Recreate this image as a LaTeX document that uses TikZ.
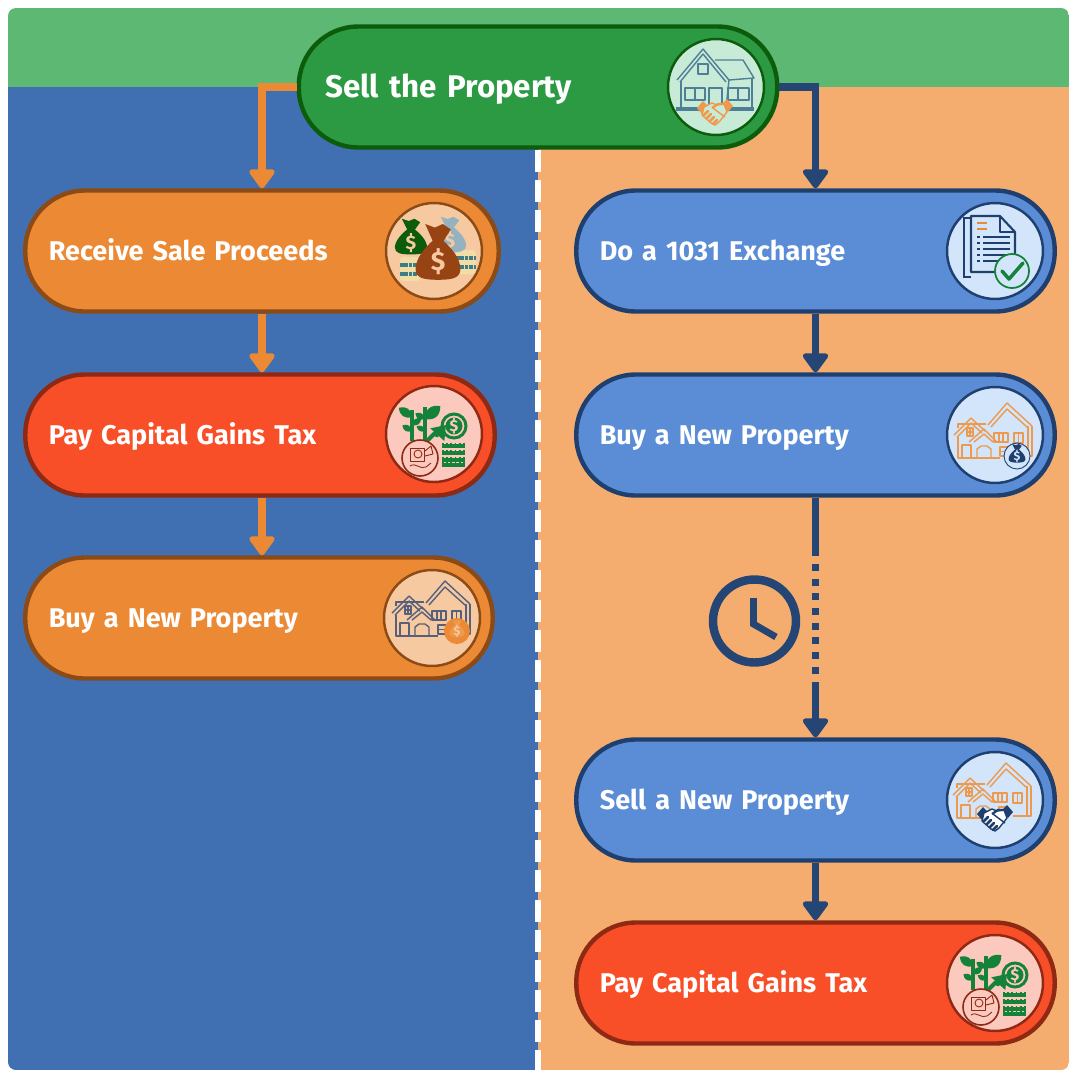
\documentclass[tikz,border=0pt]{standalone}
\usepackage{fontspec}
\setmainfont{Fira Sans}[WordSpace=0.55]
\usetikzlibrary{arrows.meta}
\definecolor{greenband}{HTML}{5DB873}
\definecolor{blueside}{HTML}{4070B2}
\definecolor{orangeside}{HTML}{F4AD6F}
\definecolor{greenfill}{HTML}{2B9A43}
\definecolor{greenline}{HTML}{0C5C0C}
\definecolor{orangefill}{HTML}{EC8935}
\definecolor{orangeline}{HTML}{8B4A16}
\definecolor{redfill}{HTML}{F94F28}
\definecolor{redline}{HTML}{8E2A14}
\definecolor{bluefill}{HTML}{5B8DD6}
\definecolor{blueline}{HTML}{1F3F6E}
\definecolor{navy}{HTML}{254674}
\definecolor{greenpale}{HTML}{C8EBD8}
\definecolor{orangepale}{HTML}{F7C9A0}
\definecolor{redpale}{HTML}{FCC9BE}
\definecolor{bluepale}{HTML}{D2E5FB}
\definecolor{slate}{HTML}{4F7F96}
\definecolor{grayhouse}{HTML}{56607A}
\definecolor{plant}{HTML}{15823A}
\definecolor{softorange}{HTML}{EE9A4D}
\definecolor{coincream}{HTML}{F3DDA6}
\definecolor{coinband}{HTML}{3F7C86}
\tikzset{
  pill/.style={rectangle,draw,rounded corners=1.19cm,minimum height=2.42cm,minimum width=#1,
    text width=#1-0.94cm,inner xsep=0.47cm,inner ysep=0pt,align=left,text=white,line width=2.5pt,
    text height=11pt,text depth=0pt,font=\fontsize{15.4}{18}\selectfont\bfseries},
  icon/.style={circle,draw,minimum size=1.92cm,inner sep=0pt,line width=1.4pt},
  orangearrow/.style={draw=orangefill,line width=4.5pt,-{Triangle[width=0.58cm,length=0.42cm,round]}},
  navyarrow/.style={draw=navy,line width=4.5pt,-{Triangle[width=0.58cm,length=0.42cm,round]}},
  thinline/.style={line width=0.8pt,line join=round},
}
% bag, centred on its body
\newcommand{\iconbag}[3]{
  \fill [#1] (-3,-6) .. controls (-8,-2) and (-14,4) .. (-14,10) .. controls (-14,15) and (-9,16) .. (0,16)
    .. controls (9,16) and (14,15) .. (14,10) .. controls (14,4) and (8,-2) .. (3,-6) -- cycle;
  \fill [#1] (-3,-5) -- (-8,-15) -- (-2,-13) -- (3,-15) -- (8,-12) -- (3,-5) -- cycle;
  \node (bagsign) [text=#2,font=\fontsize{#3}{#3}\selectfont\bfseries,inner sep=0pt] at (0,6) {\$};
}
\newcommand{\iconcoins}{
  \fill [rounded corners=2pt,coincream] (-10,-12) rectangle (10,12);
  \draw [line width=1.8pt,coinband,dash pattern=on 2pt off 0.5pt] (-10,-4) -- (10,-4);
  \draw [line width=1.8pt,coinband,dash pattern=on 2pt off 0.5pt] (-10,5) -- (10,5);
}
\newcommand{\iconleaf}[4]{
  \fill [plant,shift={(#1,#2)},rotate=#3,scale=#4] (0,0) .. controls (5,-6) and (11,-6) .. (16,0)
    .. controls (11,6) and (5,6) .. (0,0) -- cycle;
}
% plant, coin, arrow and hand
\newcommand{\icontax}{
  \draw [plant,line width=2pt] (-22,7) -- (-22,-24);
  \draw [plant,line width=2pt] (-9,7) -- (-9,-27);
  \iconleaf{-22}{-17}{145}{1.0}
  \iconleaf{-22}{-9}{35}{0.7}
  \iconleaf{-22}{-3}{150}{0.7}
  \iconleaf{-9}{-15}{40}{1.25}
  \iconleaf{-9}{-15}{150}{0.7}
  \iconleaf{-9}{-3}{150}{0.6}
  \draw [plant,line width=2.3pt,-{Triangle[width=0.36cm,length=0.26cm]}] (-8,8) -- (0,0) -- (3,1) -- (12,-9);
  \draw [plant,line width=1.7pt] (20,-8) circle (12);
  \fill [plant] (20,-8) circle (8.5);
  \node (taxsign) [text=redpale,font=\fontsize{9}{9}\selectfont\bfseries,inner sep=0pt] at (20,-8) {\$};
  \foreach \barrow in {9,16,23,28} {
    \fill [plant] (8,\barrow+1) rectangle (31,\barrow+4.5);
    \draw [plant,line width=1pt,dash pattern=on 1pt off 1.4pt] (8,\barrow+0.5) -- (31,\barrow+0.5);
  }
  \filldraw [fill=redpale,draw=redline,line width=0.9pt] (-14,24) circle (18);
  \draw [redline,line width=0.5pt,line join=round] (-24,14) -- (-10,14) -- (-10,27) -- (-24,27) -- cycle;
  \draw [redline,line width=0.5pt] (-16,20) circle (4);
  \draw [redline,line width=0.5pt,line join=round] (-9,17) -- (-3,12) -- (-1,20) -- (-9,22);
  \draw [redline,line width=0.5pt,line join=round] (-24,32) .. controls (-18,28) and (-14,36) .. (-8,33) -- (-3,29);
}
% large house outline
\newcommand{\iconhouse}[1]{
  \begin{scope}[draw=#1,thinline]
    \draw (-40,-5) -- (-23,-22) -- (-9,-9);
    \draw (-37,-3) -- (-23,-17) -- (-12,-7);
    \draw (-6,-15) -- (13,-37) -- (38,-14);
    \draw (-3,-13) -- (13,-31) -- (33,-13);
    \draw (-36,-12) -- (-36,-16) -- (-8,-16);
    \draw (-25,2) -- (-10,-11) -- (3,2);
    \draw (-20,2) -- (-10,-6) -- (-1,2);
    \draw (-36,-3) -- (-36,18) -- (6,18);
    \draw (34,-14) -- (34,16) -- (20,16);
    \draw (38,-14) -- (38,16) -- (34,16);
    \draw (-32,5) rectangle (-23,18);
    \draw (-17,18) -- (-17,9) -- (-13,6) -- (-7,6) -- (-3,9) -- (-3,18);
    \draw (-27,-12) rectangle (-21,-4);
    \draw (-24,-12) -- (-24,-4);
    \draw (-27,-8) -- (-21,-8);
    \draw (0,-7) rectangle (14,2);
    \draw (5,-7) -- (5,2);
    \draw (9,-7) -- (9,2);
    \draw (20,-7) rectangle (29,3);
    \draw (24.5,-7) -- (24.5,3);
    \draw (6,7) rectangle (14,16);
    \draw (6,11.5) -- (14,11.5);
  \end{scope}
}
\newcommand{\iconshake}[2]{
  \fill [#1] (-18,-4) -- (-12,-11) -- (-7,-6) -- (-13,2) -- cycle;
  \fill [#1] (18,-6) -- (12,-13) -- (7,-8) -- (13,0) -- cycle;
  \filldraw [fill=#2,draw=#1,thinline] (-11,-5) -- (-3,-9) -- (2,-7) -- (9,-8) -- (12,0) -- (4,10) -- (0,13)
    -- (-4,11) -- (-13,3) -- cycle;
  \draw [#1,line width=1.3pt] (-3,-4) -- (3,-8) -- (9,-8);
  \draw [#1,thinline] (-2,-4) -- (10,5);
  \foreach \fingerpos in {0,1,2,3} {
    \draw [#1,line width=1.5pt,line cap=round] (-11+3*\fingerpos,3+3*\fingerpos) -- (-7+3*\fingerpos,-1+3*\fingerpos);
  }
}
\begin{document}
\begin{tikzpicture}[x=0.02cm,y=-0.02cm]
\useasboundingbox (0,0) rectangle (1080,1080);
\begin{scope}
\clip [rounded corners=0.16cm] (8,8) rectangle (1069,1070);
\fill [blueside] (8,87) rectangle (538,1070);
\fill [orangeside] (538,87) rectangle (1069,1070);
\fill [greenband] (8,8) rectangle (1069,87);
\end{scope}
\coordinate (divtop) at (538,150);
\coordinate (divbottom) at (538,1070);
\draw [white,line width=3.4pt,dash pattern=on 0.44cm off 0.16cm] (divtop) -- (divbottom);
% left column
\node (sell) [pill=9.57cm,draw=greenline,fill=greenfill,text width=8.51cm,inner xsep=0.53cm,text height=12.2pt,font=\fontsize{17.8}{20}\selectfont\bfseries] at (538,87) {Sell the Property};
\node (receive) [pill=9.47cm,draw=orangeline,fill=orangefill] at (262,251) {Receive Sale Proceeds};
\node (paytax) [pill=9.39cm,draw=redline,fill=redfill] at (260,435) {Pay Capital Gains Tax};
\node (buyleft) [pill=9.35cm,draw=orangeline,fill=orangefill] at (259,618) {Buy a New Property};
% right column
\node (exchange) [pill=9.57cm,draw=blueline,fill=bluefill] at (815.5,251) {Do a 1031 Exchange};
\node (buyright) [pill=9.57cm,draw=blueline,fill=bluefill] at (815.5,435) {Buy a New Property};
\node (sellnew) [pill=9.57cm,draw=blueline,fill=bluefill] at (815.5,800) {Sell a New Property};
\node (payright) [pill=9.57cm,draw=redline,fill=redfill] at (815.5,983) {Pay Capital Gains Tax};
% icon discs
\node (iconsell) [icon,draw=greenline,fill=greenpale] at (716,87) {};
\node (iconreceive) [icon,draw=orangeline,fill=orangepale] at (434,251) {};
\node (iconpay) [icon,draw=redline,fill=redpale] at (434,434) {};
\node (iconbuy) [icon,draw=orangeline,fill=orangepale] at (432,618) {};
\node (iconexchange) [icon,draw=blueline,fill=bluepale] at (995,251) {};
\node (iconbuyright) [icon,draw=blueline,fill=bluepale] at (995,435) {};
\node (iconsellnew) [icon,draw=blueline,fill=bluepale] at (995,800) {};
\node (iconpayright) [icon,draw=redline,fill=redpale] at (995,983) {};
% connectors
\coordinate (wait1) at (815.5,564);
\coordinate (wait2) at (815.5,675);
\draw [orangearrow] (sell.west) -| (receive.north);
\draw [orangearrow] (receive.south) -- (paytax.north -| receive.south);
\draw [orangearrow] (paytax.south -| receive.south) -- (buyleft.north -| receive.south);
\draw [navyarrow] (sell.east) -| (exchange.north);
\draw [navyarrow] (exchange.south) -- (buyright.north);
\draw [draw=navy,line width=4.5pt] (buyright.south) -- (815.5,556);
\draw [draw=navy,line width=4.5pt,dash pattern=on 0.14cm off 0.153cm] (wait1) -- (wait2);
\draw [navyarrow] (815.5,682) -- (sellnew.north);
\draw [navyarrow] (sellnew.south) -- (payright.north);
% clock
\node (clock) [circle,draw=navy,line width=4.8pt,minimum size=1.66cm,inner sep=0pt] at (754.5,621) {};
\draw [navy,line width=3.9pt] (753.5,598) -- (753.5,624) -- (776,637);
% house and handshake
\begin{scope}[shift={(iconsell.center)}]
\begin{scope}[draw=slate,thinline]
\draw (-39,-7) -- (-13,-38) -- (13,-7);
\draw (-36,-5) -- (-13,-33) -- (10,-5);
\draw (-1,-27) -- (27,-27) -- (38,-9) -- (13,-7);
\draw (-35,-6) -- (-35,21);
\draw (36,-8) -- (36,21);
\draw (13,-7) -- (10,21);
\draw (-40,23) -- (38,23);
\draw (-40,21) -- (38,21);
\draw (-18,-23) rectangle (-8,-13);
\draw (-31,1) rectangle (-11,13);
\draw (-21,1) -- (-21,13);
\draw (-7,21) -- (-7,1) -- (6,1) -- (6,21);
\draw (12,1) rectangle (33,13);
\draw (22,1) -- (22,13);
\end{scope}
\begin{scope}[shift={(-1,25)}]
\iconshake{softorange}{greenpale}
\end{scope}
\end{scope}
% money bags
\begin{scope}[shift={(iconreceive.center)}]
\begin{scope}[shift={(-24,18)}]
\iconcoins
\end{scope}
\begin{scope}[shift={(32,11)}]
\iconcoins
\end{scope}
\begin{scope}[shift={(-23,-15)},scale=1.15]
\iconbag{greenline}{orangepale}{11}
\end{scope}
\begin{scope}[shift={(16,-17)},scale=1.15]
\iconbag{slate!60!white}{orangepale}{11}
\end{scope}
\begin{scope}[shift={(4,0)},xscale=1.6,yscale=1.8]
\iconbag{orangeline!90!red}{orangepale}{15}
\end{scope}
\end{scope}
\begin{scope}[shift={(iconpay.center)}]
\icontax
\end{scope}
\begin{scope}[shift={(iconpayright.center)}]
\icontax
\end{scope}
% house with orange bag
\begin{scope}[shift={(iconbuy.center)}]
\iconhouse{grayhouse}
\fill [orangefill] (25,13) circle (13);
\begin{scope}[shift={(25,10)},scale=0.55]
\iconbag{softorange}{orangepale}{7}
\end{scope}
\end{scope}
% document and check mark
\begin{scope}[shift={(iconexchange.center)}]
\draw [blueline,line width=1pt] (-24,26) -- (-31,26) -- (-31,-33) -- (-24,-33);
\draw [blueline,line width=1.2pt,line join=round] (-24,21) -- (-24,-35) -- (5,-35) -- (20,-19) -- (20,21) -- cycle;
\draw [blueline,line width=1pt,line join=round] (5,-35) -- (5,-19) -- (20,-19);
\foreach \docline in {-14,-8,-2,4,10} {
  \draw [blueline,line width=1pt] (-18,\docline) -- (-15,\docline);
  \draw [blueline,line width=1pt] (-12,\docline) -- (15,\docline);
}
\draw [orangefill,line width=1pt] (-18,-28) -- (-8,-28);
\draw [orangefill,line width=1pt] (-18,-22) -- (-8,-22);
\filldraw [fill=bluepale,draw=plant,line width=1pt] (17,20) circle (17);
\draw [plant,line width=2pt,line cap=round,line join=round] (7,20) -- (14,28) -- (28,12);
\end{scope}
% house with navy bag
\begin{scope}[shift={(iconbuyright.center)}]
\begin{scope}[shift={(-1,5)}]
\iconhouse{softorange}
\end{scope}
\filldraw [fill=bluepale,draw=blueline,line width=0.5pt] (22,21) circle (13);
\begin{scope}[shift={(22,18)},scale=0.6]
\iconbag{blueline}{bluepale}{7}
\end{scope}
\end{scope}
% house with navy handshake
\begin{scope}[shift={(iconsellnew.center)}]
\begin{scope}[shift={(-2,0)}]
\iconhouse{softorange}
\end{scope}
\begin{scope}[shift={(0,18)}]
\iconshake{blueline}{white}
\end{scope}
\end{scope}
\end{tikzpicture}
\end{document}
